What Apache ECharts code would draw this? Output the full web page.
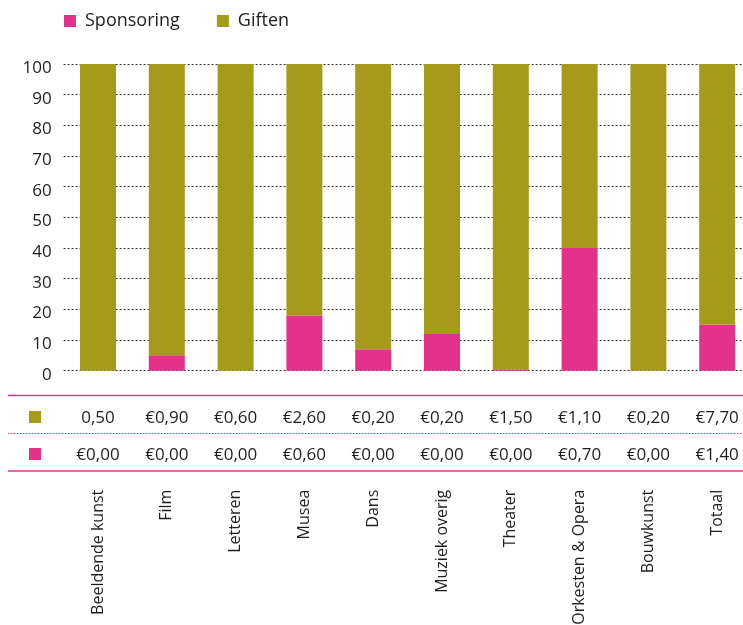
<!DOCTYPE html>
<html>
<head>
<meta charset="utf-8">
<script src="https://cdn.jsdelivr.net/npm/echarts@6/dist/echarts.min.js"></script>
<style>
  html, body { margin: 0; padding: 0; background: #fff; }
  #chart { width: 743px; height: 625px; }
</style>
</head>
<body>
<div id="chart"></div>
<script>
// Share of sponsoring vs. gifts per sector (percent of the total per bar)
const categories = ['Beeldende kunst', 'Film', 'Letteren', 'Musea', 'Dans', 'Muziek overig', 'Theater', 'Orkesten & Opera', 'Bouwkunst', 'Totaal'];
const sponsoringPct = [0, 5, 0, 18, 7, 12, 0.5, 40, 0, 15];
const giftenPct = [100, 95, 100, 82, 93, 88, 99.5, 60, 100, 85];

// Amounts shown in the table beneath the bars
const giftenLabels = ['0,50', '€0,90', '€0,60', '€2,60', '€0,20', '€0,20', '€1,50', '€1,10', '€0,20', '€7,70'];
const sponsoringLabels = ['€0,00', '€0,00', '€0,00', '€0,60', '€0,00', '€0,00', '€0,00', '€0,70', '€0,00', '€1,40'];

const yTicks = [0, 10, 20, 30, 40, 50, 60, 70, 80, 90, 100];

const PINK = '#E4318A';
const OLIVE = '#A69A1A';
const TEXT = '#1e1e1e';
const FONT = '"Open Sans", "Noto Sans", sans-serif';

const chart = echarts.init(document.getElementById('chart'), null, { renderer: 'canvas' });

const tableAxis = (labels, offset, margin, extra) => Object.assign({
  type: 'category',
  data: labels,
  position: 'bottom',
  offset: offset,
  axisLine: { show: false },
  axisTick: { show: false },
  splitLine: { show: false },
  axisLabel: {
    interval: 0,
    margin: margin,
    color: TEXT,
    fontFamily: FONT,
    fontSize: 17
  }
}, extra || {});

chart.setOption({
  animation: false,
  textStyle: { fontFamily: FONT },
  legend: {
    left: 64,
    top: 12,
    padding: 0,
    itemWidth: 12,
    itemHeight: 12,
    itemGap: 37,
    icon: 'rect',
    data: ['Sponsoring', 'Giften'],
    textStyle: { fontSize: 18, color: TEXT, fontFamily: FONT, padding: [0, 0, 0, 4] }
  },
  // the plot runs a little past the right edge, so the last column is clipped
  grid: {
    left: 63.6, top: 64, width: 688, height: 306.7,
    containLabel: false, outerBoundsMode: 'none'
  },
  xAxis: [
    {
      type: 'category',
      data: categories,
      axisLine: { show: false },
      axisTick: { show: false },
      axisLabel: { show: false },
      splitLine: { show: false }
    },
    tableAxis(giftenLabels, 25, 14),
    tableAxis(sponsoringLabels, 62.5, 13.5),
    tableAxis(categories, 100, 19, {
      axisLabel: {
        interval: 0,
        rotate: 90,
        margin: 19,
        color: TEXT,
        fontFamily: FONT,
        fontSize: 16
      }
    })
  ],
  yAxis: {
    type: 'value',
    min: yTicks[0],
    max: yTicks[yTicks.length - 1],
    interval: 10,
    axisLine: { show: false },
    axisTick: { show: false },
    // tick numbers sit slightly below their gridline
    axisLabel: {
      color: TEXT, fontFamily: FONT, fontSize: 17, margin: 12,
      verticalAlign: 'top', lineHeight: 8
    },
    splitLine: { lineStyle: { color: '#333', width: 1, type: [2, 2] } }
  },
  series: [
    {
      name: 'Sponsoring',
      type: 'bar',
      stack: 'share',
      barWidth: 36,
      itemStyle: { color: PINK },
      data: sponsoringPct
    },
    {
      name: 'Giften',
      type: 'bar',
      stack: 'share',
      barWidth: 36,
      itemStyle: { color: OLIVE },
      data: giftenPct
    }
  ],
  graphic: [
    // table rules
    { type: 'line', shape: { x1: 8, y1: 395.5, x2: 743, y2: 395.5 }, style: { stroke: PINK, lineWidth: 1.5 } },
    { type: 'line', shape: { x1: 8, y1: 433.5, x2: 743, y2: 433.5 }, style: { stroke: PINK, lineWidth: 1, lineDash: [1.5, 1.5] } },
    { type: 'line', shape: { x1: 8, y1: 471, x2: 743, y2: 471 }, style: { stroke: PINK, lineWidth: 1.5 } },
    // row keys
    { type: 'rect', shape: { x: 29, y: 411, width: 12, height: 12 }, style: { fill: OLIVE } },
    { type: 'rect', shape: { x: 29, y: 448, width: 12, height: 12 }, style: { fill: PINK } }
  ]
});
</script>
</body>
</html>
